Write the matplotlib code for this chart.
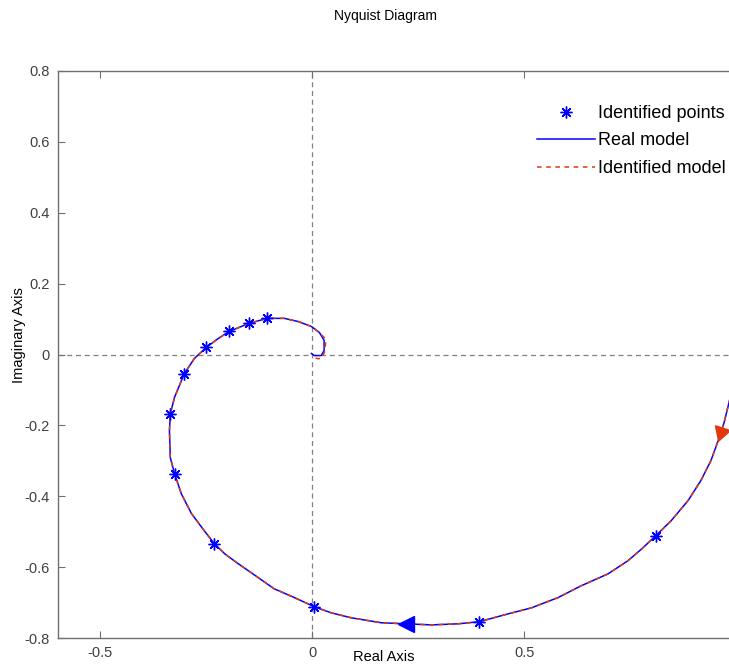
import matplotlib
matplotlib.use('Agg')
import matplotlib.pyplot as plt

plt.rcParams['font.family'] = ['Liberation Sans', 'DejaVu Sans']

# Real model: Nyquist curve (increasing frequency)
real_re = [1.000, 0.995, 0.983, 0.972, 0.958, 0.941, 0.917, 0.887, 0.847, 0.811,
           0.778, 0.745, 0.698, 0.634, 0.580, 0.517, 0.462, 0.394, 0.344, 0.281, 0.222,
           0.163, 0.092, 0.045, 0.005, -0.042, -0.090, -0.127, -0.175, -0.205, -0.231, -0.255,
           -0.285, -0.309, -0.325, -0.335, -0.337, -0.335, -0.325, -0.302, -0.278, -0.250,
           -0.222, -0.196, -0.149, -0.106, -0.066, -0.033, -0.002, 0.017, 0.028, 0.028, 0.021,
           0.005, -0.002]
real_im = [0.000, -0.080, -0.138, -0.192, -0.243, -0.299, -0.356, -0.412, -0.469, -0.511,
           -0.548, -0.582, -0.619, -0.653, -0.686, -0.715, -0.732, -0.754, -0.760, -0.763, -0.760,
           -0.757, -0.743, -0.729, -0.712, -0.686, -0.661, -0.630, -0.590, -0.564, -0.534, -0.497,
           -0.449, -0.393, -0.336, -0.291, -0.215, -0.167, -0.121, -0.054, -0.011, 0.020,
           0.045, 0.065, 0.088, 0.102, 0.102, 0.093, 0.079, 0.062, 0.040, 0.011, -0.003,
           -0.003, 0.003]

# Identified model: same path except the final hook near the origin
ident_re = real_re[:-5] + [0.032, 0.030, 0.023, 0.014, 0.002]
ident_im = real_im[:-5] + [0.043, 0.010, -0.010, -0.012, -0.008]

# Identified frequency-response points
pts_re = [0.811, 0.394, 0.005, -0.231, -0.325, -0.335, -0.302, -0.250, -0.196, -0.149, -0.106]
pts_im = [-0.511, -0.754, -0.712, -0.534, -0.336, -0.167, -0.054, 0.020, 0.065, 0.088, 0.102]

# direction arrows (MATLAB nyquist draws one per curve)
arrow_real = (0.222, -0.760)
arrow_ident = (0.965, -0.220)

blue = '#0000ff'
red = '#e2380c'
grey = '#707070'

fig = plt.figure(figsize=(7.29, 6.64), dpi=100)
ax = fig.add_axes([58 / 729, 26 / 664, 678 / 729, 567 / 664])

ax.axhline(0, color='#808080', lw=0.9, ls=(0, (4, 3)), zorder=1)
ax.axvline(0, color='#808080', lw=0.9, ls=(0, (4, 3)), zorder=1)

ax.plot(pts_re, pts_im, ls='none', marker=(8, 2, 0), color=blue, ms=8.5, mew=1.0,
        label='Identified points', zorder=4)
ax.plot(real_re, real_im, color=blue, lw=1.1, label='Real model', zorder=2)
ax.plot(ident_re, ident_im, color=red, lw=1.1, ls=(0, (3, 3)),
        label='Identified model', zorder=3)

ax.plot(*arrow_real, marker='<', color=blue, ms=12, zorder=5)
ax.plot(*arrow_ident, marker=(3, 0, 162), color=red, ms=13, zorder=5)

ax.set_xlim(-0.6, 1.0)
ax.set_ylim(-0.8, 0.8)
ax.set_xticks([-0.5, 0, 0.5])
ax.set_xticklabels(['-0.5', '0', '0.5'])
ax.set_yticks([-0.8, -0.6, -0.4, -0.2, 0, 0.2, 0.4, 0.6, 0.8])
ax.set_yticklabels(['-0.8', '-0.6', '-0.4', '-0.2', '0', '0.2', '0.4', '0.6', '0.8'])
ax.tick_params(direction='in', top=True, right=True, length=5, width=0.8,
               color=grey, labelcolor='#404040', labelsize=10.5, pad=6)
for sp in ax.spines.values():
    sp.set_color(grey)
    sp.set_linewidth(1.0)

ax.set_xlabel('Real Axis', fontsize=10.5, color='black')
ax.xaxis.set_label_coords(0.481, -0.022)
ax.set_ylabel('Imaginary Axis', fontsize=10.5, color='black')
ax.yaxis.set_label_coords(-0.047, 0.534)

fig.text(386 / 729, 1 - 16 / 664, 'Nyquist Diagram', ha='center', va='center',
         fontsize=10, color='black')

ax.legend(loc='upper left', bbox_to_anchor=(0.7065, 0.940), frameon=False,
          fontsize=13, handlelength=3.2, handletextpad=0.2, labelspacing=0.58,
          borderpad=0, borderaxespad=0, markerscale=1.0, numpoints=1)

fig.savefig('out.png', dpi=100)
